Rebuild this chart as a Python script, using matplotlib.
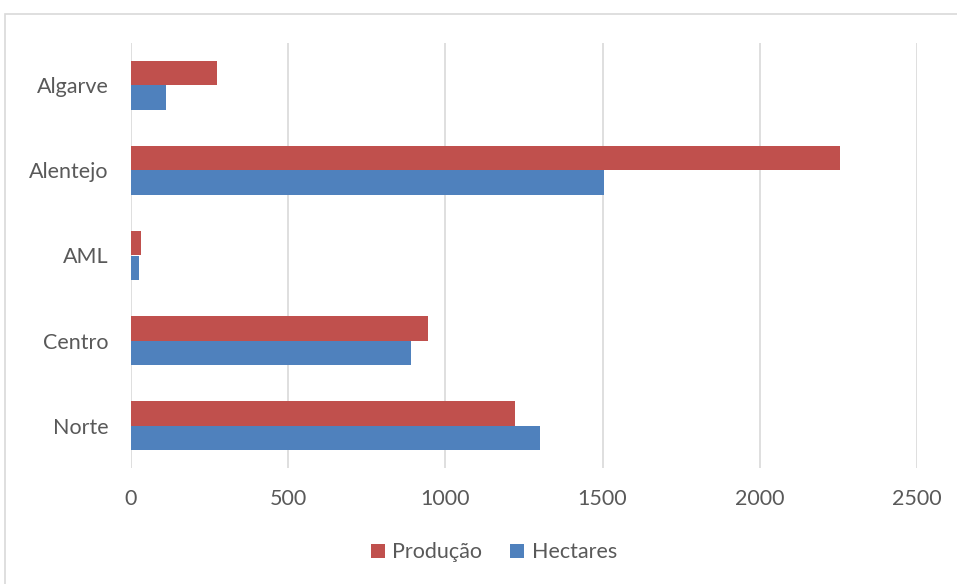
import matplotlib.pyplot as plt
import numpy as np
from matplotlib.patches import Rectangle

regioes = ["Norte", "Centro", "AML", "Alentejo", "Algarve"]
producao = [1220, 946, 33, 2254, 275]
hectares = [1302, 890, 24, 1505, 112]
x_ticks = [0, 500, 1000, 1500, 2000, 2500]

red = "#C0504D"
blue = "#4F81BD"
text_color = "#595959"

plt.rcParams["font.family"] = ["Lato", "DejaVu Sans"]

fig = plt.figure(figsize=(9.57, 5.84), dpi=100)
ax = fig.add_axes([0.1369, 0.1986, 0.8213, 0.7278])

# chart border like the spreadsheet export
fig.patches.append(Rectangle((0.005, -0.1), 1.2, 1.0755, transform=fig.transFigure,
                             fill=False, edgecolor="#D9D9D9", linewidth=1.2))

y = np.arange(len(regioes))
h = 0.293
ax.barh(y - h / 2, hectares, height=h, color=blue, label="Hectares", zorder=3)
ax.barh(y + h / 2, producao, height=h, color=red, label="Produção", zorder=3)

ax.set_xlim(0, 2500)
ax.set_ylim(-0.5, len(regioes) - 0.5)
ax.set_xticks(x_ticks)
ax.set_yticks(y)
ax.set_yticklabels(regioes)
ax.tick_params(axis="both", length=0, labelsize=15.5, colors=text_color)
ax.tick_params(axis="x", pad=15)
ax.tick_params(axis="y", pad=16)
ax.grid(axis="x", color="#D9D9D9", linewidth=1.2, zorder=0)
for s in ax.spines.values():
    s.set_visible(False)

handles, labels = ax.get_legend_handles_labels()
leg = fig.legend(handles[::-1], labels[::-1], loc="center", bbox_to_anchor=(0.516, 0.054),
                 ncol=2, frameon=False, fontsize=15.5, handlelength=0.65, handleheight=0.65,
                 handletextpad=0.35, columnspacing=1.3)
for t in leg.get_texts():
    t.set_color(text_color)

fig.savefig("out.png", dpi=100)
